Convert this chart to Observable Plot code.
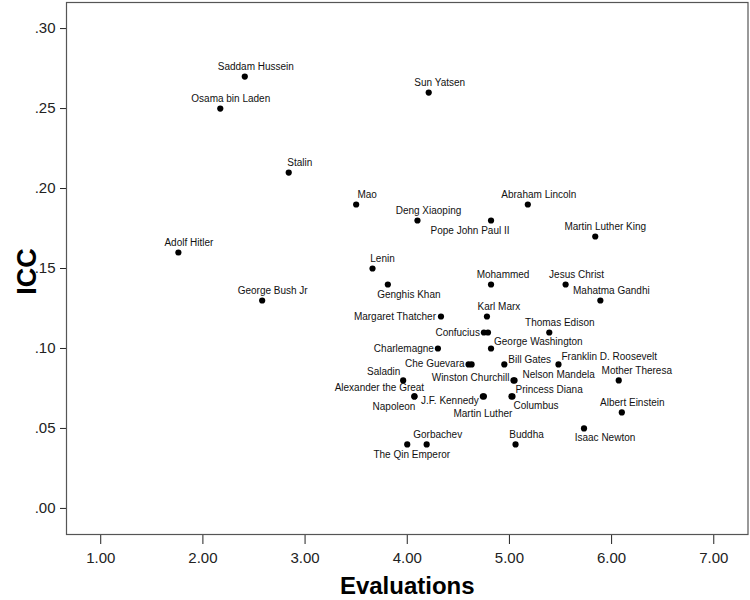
<!DOCTYPE html>
<html>
<head>
<meta charset="utf-8">
<script src="https://cdn.jsdelivr.net/npm/d3@7"></script>
<script src="https://cdn.jsdelivr.net/npm/@observablehq/plot@0.6"></script>
<style>
  html, body { margin: 0; padding: 0; background: #fff; }
</style>
</head>
<body>
<div id="chart"></div>
<script>
const names = ["Saddam Hussein","Osama bin Laden","Sun Yatsen","Stalin","Mao","Deng Xiaoping","Abraham Lincoln","Pope John Paul II","Martin Luther King","Adolf Hitler","Lenin","Genghis Khan","George Bush Jr","Mohammed","Jesus Christ","Mahatma Gandhi","Karl Marx","Margaret Thatcher","Confucius","","Thomas Edison","Charlemagne","George Washington","Che Guevara","","Bill Gates","Franklin D. Roosevelt","Saladin","Winston Churchill","Nelson Mandela","Mother Theresa","Alexander the Great","Napoleon","J.F. Kennedy","Martin Luther","Princess Diana","Columbus","Albert Einstein","Isaac Newton","Buddha","Gorbachev","The Qin Emperor"];

const evaluations = [2.41,2.17,4.21,2.84,3.50,4.10,5.18,4.82,5.84,1.76,3.66,3.81,2.58,4.82,5.55,5.89,4.78,4.33,4.75,4.79,5.39,4.30,4.82,4.60,4.63,4.95,5.48,3.96,5.04,5.05,6.07,4.07,4.07,4.74,4.75,5.02,5.03,6.10,5.73,5.06,4.19,4.00];

const icc = [0.27,0.25,0.26,0.21,0.19,0.18,0.19,0.18,0.17,0.16,0.15,0.14,0.13,0.14,0.14,0.13,0.12,0.12,0.11,0.11,0.11,0.10,0.10,0.09,0.09,0.09,0.09,0.08,0.08,0.08,0.08,0.07,0.07,0.07,0.07,0.07,0.07,0.06,0.05,0.04,0.04,0.04];

const xTicks = [1, 2, 3, 4, 5, 6, 7];
const yTicks = [0, 0.05, 0.10, 0.15, 0.20, 0.25, 0.30];
const xTitle = "Evaluations";
const yTitle = "ICC";

// label placement (style): [textAnchor, dx, dy] in pixels relative to the dot
const labelPlacement = {
  "Saddam Hussein": ["middle", 11, -10],
  "Osama bin Laden": ["middle", 10.5, -10],
  "Sun Yatsen": ["middle", 11, -10],
  "Stalin": ["middle", 11, -10],
  "Mao": ["middle", 11, -10],
  "Deng Xiaoping": ["middle", 11, -10],
  "Abraham Lincoln": ["middle", 11, -10],
  "Pope John Paul II": ["middle", -21, 10],
  "Martin Luther King": ["middle", 10, -10],
  "Adolf Hitler": ["middle", 10.5, -10],
  "Lenin": ["middle", 10, -10],
  "Genghis Khan": ["middle", 21, 10],
  "George Bush Jr": ["middle", 10.5, -10],
  "Mohammed": ["middle", 12, -10],
  "Jesus Christ": ["middle", 11, -10],
  "Mahatma Gandhi": ["middle", 11, -10],
  "Karl Marx": ["middle", 12, -10],
  "Margaret Thatcher": ["end", -5, 0],
  "Confucius": ["end", -4, 0],
  "Thomas Edison": ["middle", 10.5, -10],
  "Charlemagne": ["end", -4, 0],
  "George Washington": ["start", 3, -7],
  "Che Guevara": ["end", -4, -1],
  "Bill Gates": ["start", 4, -5],
  "Franklin D. Roosevelt": ["start", 3, -8],
  "Saladin": ["middle", -19.5, -9],
  "Winston Churchill": ["end", -4, -3],
  "Nelson Mandela": ["start", 8, -6],
  "Mother Theresa": ["middle", 18, -10],
  "Alexander the Great": ["middle", -35, -9],
  "Napoleon": ["end", 1, 10],
  "J.F. Kennedy": ["end", -4, 4],
  "Martin Luther": ["middle", -1, 17],
  "Princess Diana": ["start", 4, -7],
  "Columbus": ["start", 1, 9],
  "Albert Einstein": ["middle", 10.5, -10],
  "Isaac Newton": ["middle", 21, 9],
  "Buddha": ["middle", 11, -10],
  "Gorbachev": ["middle", 11, -10],
  "The Qin Emperor": ["middle", 4.5, 10]
};

const data = names.map((name, i) => ({name, x: evaluations[i], y: icc[i]}));

const labelMarks = data
  .filter(d => d.name !== "")
  .map(d => {
    const [anchor, dx, dy] = labelPlacement[d.name] || ["middle", 10, -10];
    return Plot.text([d], {
      x: "x", y: "y", text: "name",
      textAnchor: anchor, dx, dy,
      fontSize: 10, fill: "#111"
    });
  });

const chart = Plot.plot({
  width: 750,
  height: 600,
  marginLeft: 66,
  marginRight: 2.5,
  marginTop: 2,
  marginBottom: 66,
  style: {
    fontFamily: "'Liberation Sans', Arial, sans-serif",
    fontSize: "15px",
    color: "#222",
    background: "#fff"
  },
  x: {
    domain: [0.665, 7.335],
    ticks: xTicks,
    tickFormat: d => d.toFixed(2),
    tickSize: 10,
    tickPadding: 8,
    label: null
  },
  y: {
    domain: [-0.0163, 0.3163],
    ticks: yTicks,
    tickFormat: d => d.toFixed(2).replace(/^0/, ""),
    tickSize: 6,
    tickPadding: 5,
    label: null
  },
  marks: [
    Plot.frame({stroke: "#555", strokeWidth: 1.2}),
    Plot.dot(data, {x: "x", y: "y", r: 3.1, fill: "#000", stroke: "none"}),
    ...labelMarks,
    Plot.text([xTitle], {frameAnchor: "bottom", textAnchor: "middle", lineAnchor: "middle", dy: 52, text: d => d, fontSize: 24, fontWeight: "bold", fill: "#000"}),
    Plot.text([yTitle], {frameAnchor: "left", textAnchor: "middle", lineAnchor: "middle", dx: -39, dy: 3, rotate: -90, text: d => d, fontSize: 27, fontWeight: "bold", fill: "#000"})
  ]
});

document.getElementById("chart").appendChild(chart);
</script>
</body>
</html>
